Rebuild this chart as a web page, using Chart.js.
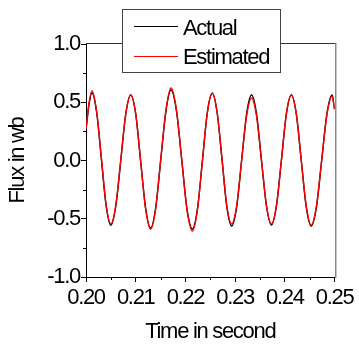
<!DOCTYPE html>
<html><head><meta charset="utf-8">
<script src="https://cdn.jsdelivr.net/npm/chart.js@4/dist/chart.umd.min.js"></script>
<style>html,body{margin:0;padding:0;background:#fff;overflow:hidden}canvas{display:block}</style>
</head><body>
<canvas id="c" width="359" height="349" style="width:359px;height:349px"></canvas>
<script>
const times = [0.2000, 0.2006, 0.2012, 0.20215, 0.2031, 0.20405, 0.2050, 0.2060, 0.2070, 0.2080, 0.2090, 0.2100, 0.2110, 0.2120, 0.2130, 0.2140, 0.21505, 0.2161, 0.2171, 0.21818, 0.21925, 0.22033, 0.2214, 0.2224, 0.2234, 0.2244, 0.2254, 0.22638, 0.22735, 0.22833, 0.2293, 0.2303, 0.2313, 0.2323, 0.2333, 0.2343, 0.2353, 0.2363, 0.2373, 0.2383, 0.2393, 0.2403, 0.2413, 0.2423, 0.2433, 0.2443, 0.2453, 0.24635, 0.2474, 0.24845, 0.2495, 0.2500];
const actual = [0.26, 0.48, 0.582, 0.41, 0.01, -0.39, -0.556, -0.39, 0.00, 0.40, 0.562, 0.40, -0.01, -0.41, -0.579, -0.41, 0.01, 0.43, 0.605, 0.43, 0.01, -0.42, -0.588, -0.42, -0.01, 0.41, 0.577, 0.41, 0.01, -0.40, -0.562, -0.40, 0.00, 0.40, 0.562, 0.40, 0.00, -0.39, -0.554, -0.39, 0.00, 0.40, 0.562, 0.40, 0.00, -0.40, -0.562, -0.40, 0.00, 0.40, 0.562, 0.44];
const estimated = [0.27, 0.49, 0.600, 0.42, 0.02, -0.38, -0.543, -0.38, 0.01, 0.40, 0.562, 0.40, -0.01, -0.42, -0.590, -0.42, 0.02, 0.44, 0.622, 0.44, 0.01, -0.43, -0.605, -0.43, -0.01, 0.41, 0.577, 0.41, 0.02, -0.39, -0.545, -0.39, 0.00, 0.38, 0.536, 0.38, 0.00, -0.39, -0.545, -0.39, 0.00, 0.40, 0.562, 0.40, 0.00, -0.39, -0.555, -0.39, 0.00, 0.39, 0.553, 0.44];
const seriesNames = ['Actual', 'Estimated'];
const seriesColors = ['#000000', '#ff0000'];
const xTicks = [0.20, 0.21, 0.22, 0.23, 0.24, 0.25];
const yTicks = [-1.0, -0.5, 0.0, 0.5, 1.0];
const xMinor = [0.205, 0.215, 0.225, 0.235, 0.245];
const yMinor = [-0.75, -0.25, 0.25, 0.75];
const xTitle = 'Time in second';
const yTitle = 'Flux in wb';

const FONT = "'Liberation Sans', Arial, sans-serif";
const LS = '-1.3px';
Chart.defaults.font.family = FONT;
Chart.defaults.color = '#000';

const framePlugin = {
  id: 'frame',
  beforeDraw(chart) { chart.ctx.letterSpacing = LS; },
  afterDraw(chart) {
    const ctx = chart.ctx, a = chart.chartArea, x = chart.scales.x, y = chart.scales.y;
    ctx.save();
    ctx.letterSpacing = LS;
    ctx.strokeStyle = '#000'; ctx.lineWidth = 1;
    ctx.beginPath();
    xMinor.forEach(v => { const px = Math.round(x.getPixelForValue(v)) + 0.5; ctx.moveTo(px, a.bottom); ctx.lineTo(px, a.bottom + 3); });
    yMinor.forEach(v => { const py = Math.round(y.getPixelForValue(v)) + 0.5; ctx.moveTo(a.left, py); ctx.lineTo(a.left - 3, py); });
    ctx.stroke();
    ctx.strokeStyle = '#333'; ctx.lineWidth = 1;
    ctx.beginPath(); ctx.moveTo(a.left, Math.round(a.top) - 0.5); ctx.lineTo(a.right + 1, Math.round(a.top) - 0.5); ctx.stroke();
    ctx.strokeStyle = '#8a8a8a'; ctx.lineWidth = 1.5;
    ctx.beginPath(); ctx.moveTo(Math.round(a.right) + 0.75, a.top - 1); ctx.lineTo(Math.round(a.right) + 0.75, a.bottom + 1); ctx.stroke();
    const lx = 122.5, ly = 9.5, lw = 158, lh = 63;
    ctx.fillStyle = '#fff'; ctx.fillRect(lx, ly, lw, lh);
    ctx.strokeStyle = '#444'; ctx.lineWidth = 1; ctx.strokeRect(lx, ly, lw, lh);
    const rows = [26.5, 56.5], bases = [35, 64];
    chart.data.datasets.forEach((ds, i) => {
      ctx.strokeStyle = ds.borderColor; ctx.lineWidth = 1;
      ctx.beginPath(); ctx.moveTo(134, rows[i]); ctx.lineTo(178, rows[i]); ctx.stroke();
      ctx.fillStyle = '#000'; ctx.font = "22px " + FONT; ctx.textAlign = 'left'; ctx.textBaseline = 'alphabetic';
      ctx.fillText(ds.label, 183, bases[i]);
    });
    ctx.restore();
  }
};

new Chart(document.getElementById('c'), {
  type: 'line',
  data: {
    datasets: [
      { label: seriesNames[0], data: times.map((t, i) => ({ x: t, y: actual[i] })), borderColor: seriesColors[0], borderWidth: 1.4, cubicInterpolationMode: 'monotone', pointRadius: 0, order: 1 },
      { label: seriesNames[1], data: times.map((t, i) => ({ x: t, y: estimated[i] })), borderColor: seriesColors[1], borderWidth: 1.4, cubicInterpolationMode: 'monotone', pointRadius: 0, order: 0 }
    ]
  },
  options: {
    responsive: false, animation: false, devicePixelRatio: 1,
    layout: { padding: { left: 0, right: 22, top: 44, bottom: 0 } },
    plugins: { legend: { display: false }, tooltip: { enabled: false } },
    scales: {
      x: {
        type: 'linear', min: 0.2, max: 0.25,
        afterFit(s) { s.height = 72; },
        afterBuildTicks(s) { s.ticks = xTicks.map(v => ({ value: v })); },
        ticks: { callback: v => v.toFixed(2), color: '#000', font: { size: 22 }, padding: 3, maxRotation: 0, autoSkip: false },
        grid: { drawOnChartArea: false, drawTicks: true, tickLength: 5, color: '#000' },
        border: { display: true, color: '#000', width: 1 },
        title: { display: true, text: xTitle, color: '#000', font: { size: 22 }, padding: { top: 0, bottom: 4 } }
      },
      y: {
        type: 'linear', min: -1, max: 1,
        afterFit(s) { s.width = 86; },
        afterBuildTicks(s) { s.ticks = yTicks.map(v => ({ value: v })); },
        ticks: { callback: v => v.toFixed(1), color: '#000', font: { size: 22 }, padding: 1, autoSkip: false },
        grid: { drawOnChartArea: false, drawTicks: true, tickLength: 5, color: '#000' },
        border: { display: true, color: '#000', width: 1 },
        title: { display: true, text: yTitle, color: '#000', font: { size: 22 }, padding: { top: 5, bottom: 0 } }
      }
    }
  },
  plugins: [framePlugin]
});
</script>
</body></html>
